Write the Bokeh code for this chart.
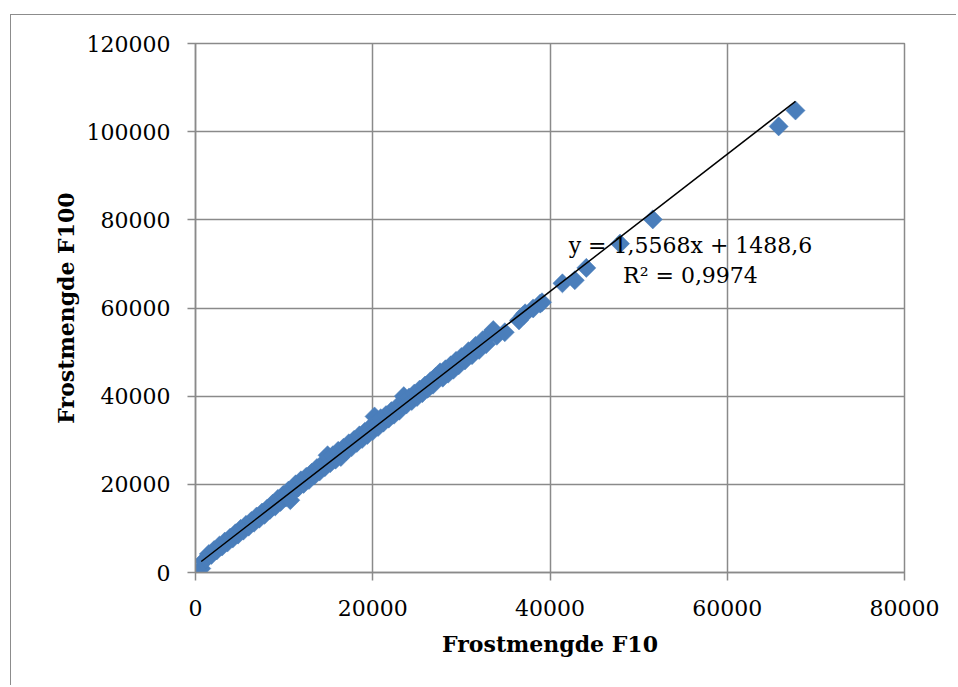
import numpy as np
from bokeh.plotting import figure
from bokeh.models import Range1d, FixedTicker, NumeralTickFormatter, Label
from bokeh.embed import file_html
from bokeh.resources import INLINE

# ---- data ----
frost_f10 = [650, 900, 1200, 1500, 1800, 2100, 2400, 2700, 3000, 3300, 3600, 3900, 4200, 4500, 4800,
             5100, 5400, 5700, 6000, 6300, 6600, 6900, 7200, 7500, 7800, 8100, 8400, 8700, 9000, 9300,
             9600, 9900, 10200, 10500, 10700, 11000, 11300, 11600, 11900, 12200, 12500, 12800, 13100,
             13400, 13700, 14000, 14300, 14600, 14900, 15200, 15500, 15800, 16100, 16400, 16700, 17000,
             17300, 17600, 17900, 18200, 18500, 18800, 19100, 19400, 19700, 20000, 20200, 20600, 20900,
             21200, 21500, 21800, 22100, 22400, 22700, 23000, 23500, 23800, 24100, 24400, 24700, 25000,
             25300, 25600, 25900, 26200, 26500, 26800, 27100, 27600, 27900, 28200, 28500, 28800, 29100,
             29400, 29700, 30000, 30400, 30800, 31200, 31600, 32000, 32400, 32800, 33200, 33600, 34000,
             34900, 36500, 37000, 37200, 38100, 38900, 39100, 41400, 42800, 44100, 47900, 51600, 65800,
             67700]
frost_f100 = [900, 2600, 3100, 4200, 4000, 5100, 5000, 6100, 5900, 7000, 6800, 7900, 7700, 8900, 8600,
              9900, 9500, 10800, 10400, 11700, 11300, 12700, 12200, 13600, 13100, 14500, 14200, 15600,
              15000, 16700, 16000, 17600, 17000, 18600, 16400, 18200, 20000, 19300, 20900, 20100, 21700,
              21000, 22600, 22000, 23700, 22900, 24600, 23900, 26600, 24800, 26600, 25600, 27600, 26200,
              28300, 27500, 29300, 28400, 30100, 29400, 31100, 30300, 31900, 31200, 32900, 32100, 35400,
              33000, 35000, 34000, 35700, 34900, 36600, 35800, 37500, 36700, 40000, 38100, 39700, 38900,
              40600, 39800, 41500, 40700, 42400, 41700, 43400, 42600, 44400, 45400, 44200, 46100, 45100,
              47000, 46000, 48000, 47000, 48900, 48100, 50200, 49300, 51400, 50500, 52700, 51800, 54000,
              55000, 53700, 54500, 57200, 58300, 58800, 59900, 61000, 61300, 65600, 66300, 69100, 74600,
              80100, 101200, 104800]

trend_slope = 1.5568
trend_intercept = 1488.6
eq_line1 = "y = 1,5568x + 1488,6"
eq_line2 = "R\u00b2 = 0,9974"

x_ticks = [0, 20000, 40000, 60000, 80000]
y_ticks = [0, 20000, 40000, 60000, 80000, 100000, 120000]
x_title = "Frostmengde F10"
y_title = "Frostmengde F100"

# ---- styling ----
FONT = "DejaVu Serif"
GRID = "#8a8a8a"
BLUE = "#4A7EBB"

W, H = 946, 671
p = figure(width=W, height=H, output_backend="svg", toolbar_location=None,
           x_range=Range1d(0, 80000), y_range=Range1d(0, 120000),
           min_border_left=184, min_border_right=W - 893, min_border_top=28, min_border_bottom=H - 557,
           background_fill_color="white", border_fill_color="white",
           outline_line_color=GRID, outline_line_width=1.5)
p.styles = {"margin-left": "10px", "margin-top": "14px",
            "border-left": "1px solid #8c8c8c", "border-top": "1px solid #8c8c8c"}

for ax, ticks in ((p.xaxis[0], x_ticks), (p.yaxis[0], y_ticks)):
    ax.ticker = FixedTicker(ticks=ticks)
    ax.formatter = NumeralTickFormatter(format="0")
    ax.axis_line_color = GRID
    ax.axis_line_width = 1.5
    ax.major_tick_line_color = GRID
    ax.major_tick_line_width = 1.5
    ax.major_tick_out = 8
    ax.major_tick_in = 0
    ax.minor_tick_line_color = None
    ax.major_label_text_font = FONT
    ax.major_label_text_font_size = "22px"
    ax.major_label_text_color = "black"
    ax.axis_label_text_font = FONT
    ax.axis_label_text_font_size = "22px"
    ax.axis_label_text_font_style = "bold"
    ax.axis_label_text_color = "black"

p.xaxis.axis_label = x_title
p.yaxis.axis_label = y_title
p.xaxis.major_label_standoff = 19
p.yaxis.major_label_standoff = 17
p.xaxis.axis_label_standoff = 12
p.yaxis.axis_label_standoff = 5

p.xgrid.ticker = FixedTicker(ticks=x_ticks)
p.ygrid.ticker = FixedTicker(ticks=y_ticks)
p.grid.grid_line_color = GRID
p.grid.grid_line_width = 1.5

# markers
p.scatter(frost_f10, frost_f100, marker="square", angle=np.pi / 4, size=13.5,
          fill_color=BLUE, line_color=BLUE, line_width=0.5)

# linear trendline
tx = np.array([min(frost_f10), max(frost_f10)])
p.line(tx, trend_slope * tx + trend_intercept, line_color="black", line_width=1.5)

# equation label
eq_x = 55850
p.add_layout(Label(x=eq_x, y=74200, text=eq_line1, text_align="center", text_baseline="alphabetic",
                   text_font=FONT, text_font_size="22px", text_color="black"))
p.add_layout(Label(x=eq_x, y=67400, text=eq_line2, text_align="center", text_baseline="alphabetic",
                   text_font=FONT, text_font_size="22px", text_color="black"))

open("out.html", "w").write(file_html(p, INLINE))
